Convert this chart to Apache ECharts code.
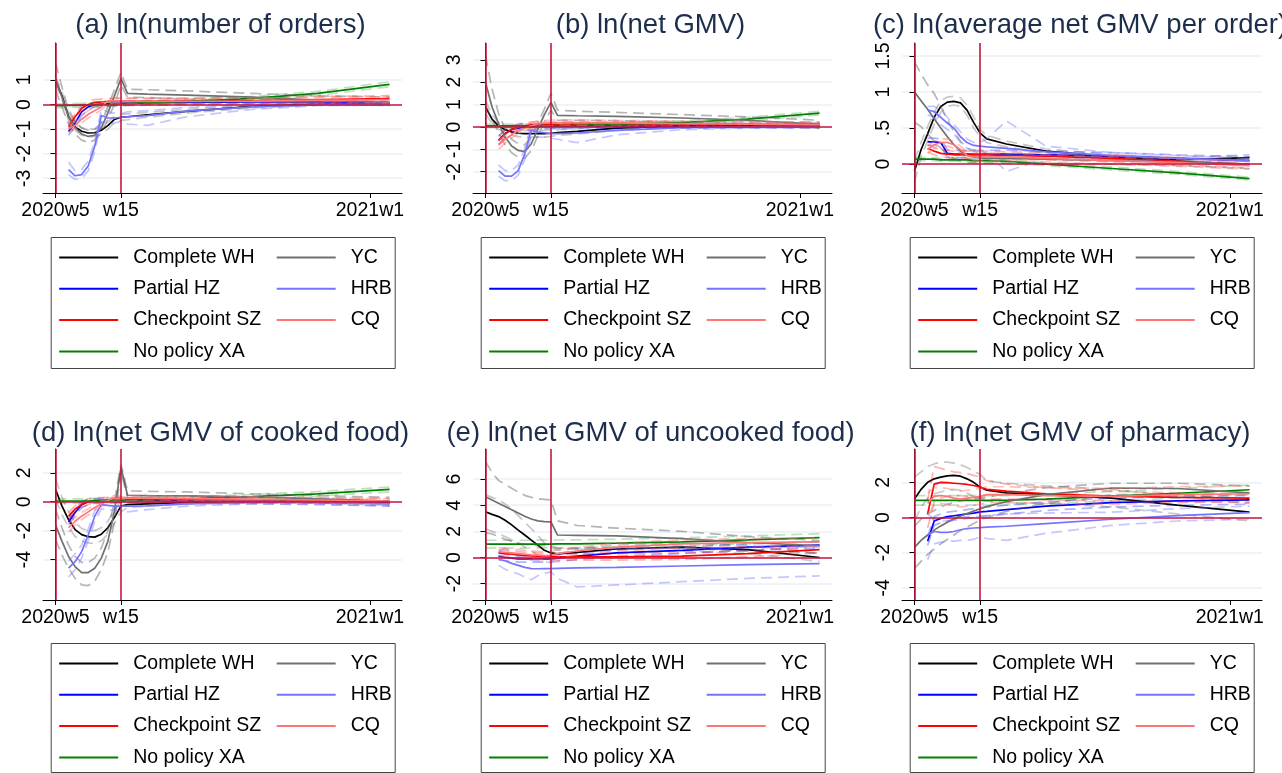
<!DOCTYPE html>
<html>
<head>
<meta charset="utf-8">
<script src="https://cdn.jsdelivr.net/npm/echarts@6/dist/echarts.min.js"></script>
<style>
html,body{margin:0;padding:0;background:#fff;}
#chart{width:1282px;height:773px;}
</style>
</head>
<body>
<div id="chart"></div>
<script>
// week index: 0 = 2020w5, 10 = 2020w15, 48 = 2021w1
const WEEKS = [0,1,2,3,4,5,6,7,8,9,10,11,14,20,30,40,51];
const X_TICKS = [0,10,48];
const X_TICK_LABELS = ['2020w5','w15','2021w1'];
const PANEL_TITLES = ['(a) ln(number of orders)','(b) ln(net GMV)','(c) ln(average net GMV per order)',
  '(d) ln(net GMV of cooked food)','(e) ln(net GMV of uncooked food)','(f) ln(net GMV of pharmacy)'];
const CITY_KEYS = ['WH','HZ','SZ','XA','YC','HRB','CQ'];
const CITY_NAMES = ['Complete WH','Partial HZ','Checkpoint SZ','No policy XA','YC','HRB','CQ'];
const Y_TICKS_A = [-3,-2,-1,0,1];
const Y_TICKS_B = [-2,-1,0,1,2,3];
const Y_TICKS_C = [0,0.5,1,1.5];
const Y_TICKS_D = [-4,-2,0,2];
const Y_TICKS_E = [-2,0,2,4,6];
const Y_TICKS_F = [-4,-2,0,2];
const Y_RANGE_A = [-3.6,2.5];
const Y_RANGE_B = [-2.95,3.75];
const Y_RANGE_C = [-0.4,1.68];
const Y_RANGE_D = [-6.8,3.65];
const Y_RANGE_E = [-3.25,8.3];
const Y_RANGE_F = [-4.7,3.9];

// ---- (a) ln(number of orders)
const a_WH    = [1.0,0.34,-0.5,-0.91,-1.09,-1.16,-1.15,-1.05,-0.86,-0.61,-0.52,-0.5,-0.42,-0.28,-0.08,0.02,0.05];
const a_WH_lo = [0.85,0.2,-0.65,-1.05,-1.25,-1.32,-1.3,-1.2,-1.0,-0.75,-0.65,-0.62,-0.52,-0.35,-0.14,-0.03,-0.02];
const a_WH_hi = [1.15,0.5,-0.35,-0.77,-0.95,-1.0,-1.0,-0.9,-0.72,-0.47,-0.4,-0.38,-0.32,-0.2,-0.02,0.07,0.12];
const a_HZ    = [null,null,-1.1,-0.75,-0.3,-0.1,0.0,0.02,0.03,0.04,0.05,0.05,0.06,0.08,0.1,0.1,0.05];
const a_HZ_lo = [null,null,-1.25,-0.9,-0.45,-0.22,-0.1,-0.08,-0.06,-0.05,-0.04,-0.04,-0.03,0.0,0.03,0.03,-0.02];
const a_HZ_hi = [null,null,-0.95,-0.6,-0.15,0.02,0.1,0.12,0.12,0.13,0.14,0.14,0.15,0.16,0.17,0.17,0.12];
const a_SZ    = [null,null,-0.9,-0.5,-0.15,0.0,0.08,0.1,0.12,0.12,0.12,0.13,0.13,0.14,0.16,0.2,0.24];
const a_SZ_lo = [null,null,-1.02,-0.62,-0.27,-0.12,-0.04,-0.02,0.0,0.0,0.0,0.01,0.01,0.02,0.04,0.08,0.12];
const a_SZ_hi = [null,null,-0.78,-0.38,-0.03,0.12,0.2,0.22,0.24,0.24,0.24,0.25,0.25,0.26,0.28,0.32,0.36];
const a_XA    = [-0.05,-0.05,-0.04,-0.04,-0.03,-0.03,-0.02,-0.01,0.0,0.02,0.03,0.04,0.07,0.12,0.25,0.45,0.82];
const a_XA_lo = [-0.13,-0.13,-0.12,-0.12,-0.11,-0.11,-0.1,-0.09,-0.08,-0.06,-0.05,-0.04,-0.01,0.04,0.17,0.37,0.72];
const a_XA_hi = [0.03,0.03,0.04,0.04,0.05,0.05,0.06,0.07,0.08,0.1,0.11,0.12,0.15,0.2,0.33,0.53,0.92];
const a_YC    = [1.05,0.3,-0.5,-0.95,-1.2,-1.3,-1.25,-0.95,-0.35,0.35,1.05,0.45,0.42,0.38,0.3,0.18,0.08];
const a_YC_lo = [0.6,-0.1,-0.8,-1.2,-1.45,-1.55,-1.45,-1.15,-0.6,0.0,0.8,0.3,0.28,0.22,0.15,0.05,-0.05];
const a_YC_hi = [1.7,0.7,-0.2,-0.7,-0.95,-1.05,-1.0,-0.75,-0.1,0.6,1.3,0.62,0.6,0.55,0.45,0.35,0.3];
const a_HRB    = [null,null,-2.65,-2.9,-2.85,-2.5,-1.7,-0.45,-0.55,-0.55,-0.52,-0.5,-0.45,-0.27,-0.1,-0.02,0.02];
const a_HRB_lo = [null,null,-2.85,-3.05,-3.0,-2.7,-1.9,-0.7,-0.8,-0.75,-0.7,-0.8,-0.85,-0.5,-0.2,-0.05,-0.02];
const a_HRB_hi = [null,null,-2.35,-2.7,-2.65,-2.3,-1.5,-0.2,-0.3,-0.35,-0.38,-0.3,-0.25,-0.12,0.0,0.05,0.07];
const a_CQ    = [null,null,-1.0,-0.85,-0.6,-0.4,-0.25,-0.1,0.15,0.15,0.15,0.14,0.13,0.13,0.14,0.17,0.2];
const a_CQ_lo = [null,null,-1.15,-1.0,-0.75,-0.55,-0.4,-0.22,0.03,0.03,0.03,0.02,0.01,0.01,0.02,0.05,0.08];
const a_CQ_hi = [null,null,-0.85,-0.7,-0.45,-0.25,-0.1,0.02,0.27,0.27,0.27,0.26,0.25,0.25,0.26,0.29,0.32];

// ---- (b) ln(net GMV)
const b_WH    = [0.9,0.35,0.05,-0.12,-0.22,-0.28,-0.3,-0.3,-0.3,-0.3,-0.28,-0.25,-0.2,-0.05,0.05,0.08,0.1];
const b_WH_lo = [0.6,0.15,-0.1,-0.27,-0.37,-0.43,-0.45,-0.45,-0.45,-0.45,-0.42,-0.38,-0.32,-0.15,-0.03,0.0,0.0];
const b_WH_hi = [1.2,0.55,0.2,0.03,-0.07,-0.13,-0.15,-0.15,-0.15,-0.15,-0.14,-0.12,-0.08,0.05,0.13,0.16,0.2];
const b_HZ    = [null,null,-0.6,-0.3,-0.12,-0.05,0.0,0.0,0.02,0.03,0.04,0.04,0.05,0.05,0.05,0.05,0.05];
const b_HZ_lo = [null,null,-0.8,-0.48,-0.28,-0.2,-0.14,-0.13,-0.1,-0.09,-0.08,-0.08,-0.07,-0.06,-0.05,-0.05,-0.06];
const b_HZ_hi = [null,null,-0.4,-0.12,0.04,0.1,0.14,0.13,0.14,0.15,0.16,0.16,0.17,0.16,0.15,0.15,0.16];
const b_SZ    = [null,null,-0.6,-0.3,-0.1,0.0,0.05,0.1,0.1,0.1,0.1,0.11,0.12,0.12,0.12,0.11,0.1];
const b_SZ_lo = [null,null,-0.78,-0.46,-0.25,-0.14,-0.08,-0.03,-0.03,-0.02,-0.02,-0.01,0.0,0.01,0.01,0.0,-0.02];
const b_SZ_hi = [null,null,-0.42,-0.14,0.05,0.14,0.18,0.23,0.23,0.22,0.22,0.23,0.24,0.23,0.23,0.22,0.22];
const b_XA    = [0.05,0.05,0.05,0.05,0.05,0.05,0.05,0.05,0.05,0.05,0.05,0.05,0.07,0.12,0.2,0.35,0.62];
const b_XA_lo = [-0.03,-0.03,-0.03,-0.03,-0.03,-0.03,-0.03,-0.03,-0.03,-0.03,-0.03,-0.03,-0.01,0.04,0.12,0.27,0.54];
const b_XA_hi = [0.13,0.13,0.13,0.13,0.13,0.13,0.13,0.13,0.13,0.13,0.13,0.13,0.15,0.2,0.28,0.43,0.7];
const b_YC    = [2.0,0.9,0.15,-0.45,-0.85,-1.05,-1.1,-0.75,-0.1,0.55,1.1,0.52,0.5,0.47,0.4,0.3,0.12];
const b_YC_lo = [1.0,0.3,-0.25,-0.8,-1.15,-1.35,-1.4,-1.05,-0.4,0.25,0.75,0.3,0.3,0.28,0.22,0.12,-0.05];
const b_YC_hi = [3.2,1.7,0.6,-0.1,-0.55,-0.75,-0.8,-0.45,0.15,0.8,1.5,0.75,0.7,0.65,0.55,0.45,0.3];
const b_HRB    = [null,null,-1.95,-2.2,-2.2,-1.95,-1.2,-0.15,-0.22,-0.26,-0.3,-0.3,-0.27,-0.15,-0.03,0.0,0.02];
const b_HRB_lo = [null,null,-2.2,-2.4,-2.4,-2.15,-1.45,-0.4,-0.45,-0.45,-0.5,-0.55,-0.7,-0.35,-0.12,-0.05,-0.03];
const b_HRB_hi = [null,null,-1.7,-1.95,-1.95,-1.7,-0.95,0.1,0.05,0.0,-0.05,-0.05,-0.02,0.05,0.1,0.1,0.1];
const b_CQ    = [null,null,-0.8,-0.55,-0.35,-0.15,-0.05,0.05,0.15,0.17,0.18,0.2,0.2,0.18,0.15,0.12,0.1];
const b_CQ_lo = [null,null,-1.0,-0.72,-0.5,-0.3,-0.18,-0.08,0.03,0.05,0.06,0.08,0.08,0.07,0.04,0.01,-0.02];
const b_CQ_hi = [null,null,-0.6,-0.38,-0.2,0.0,0.08,0.18,0.27,0.29,0.3,0.32,0.32,0.29,0.26,0.23,0.22];

// ---- (c) ln(average net GMV per order)
const c_WH    = [-0.1,0.2,0.42,0.65,0.8,0.86,0.87,0.85,0.75,0.58,0.43,0.35,0.28,0.18,0.1,0.06,0.09];
const c_WH_lo = [-0.25,0.1,0.32,0.55,0.72,0.8,0.82,0.8,0.68,0.5,0.38,0.3,0.24,0.15,0.07,0.03,0.05];
const c_WH_hi = [0.05,0.3,0.52,0.72,0.88,0.93,0.94,0.92,0.82,0.66,0.48,0.4,0.32,0.21,0.13,0.09,0.13];
const c_HZ    = [null,null,0.31,0.31,0.3,0.15,0.14,0.14,0.14,0.14,0.14,0.14,0.14,0.13,0.11,0.08,0.05];
const c_HZ_lo = [null,null,0.26,0.26,0.25,0.1,0.09,0.09,0.09,0.09,0.09,0.09,0.09,0.08,0.06,0.03,0.0];
const c_HZ_hi = [null,null,0.36,0.36,0.35,0.2,0.19,0.19,0.19,0.19,0.19,0.19,0.19,0.18,0.16,0.13,0.1];
const c_SZ    = [null,null,0.22,0.18,0.15,0.14,0.13,0.13,0.13,0.13,0.13,0.13,0.12,0.11,0.08,0.04,0.0];
const c_SZ_lo = [null,null,0.17,0.13,0.1,0.09,0.08,0.08,0.08,0.08,0.08,0.08,0.07,0.06,0.03,-0.01,-0.05];
const c_SZ_hi = [null,null,0.27,0.23,0.2,0.19,0.18,0.18,0.18,0.18,0.18,0.18,0.17,0.16,0.13,0.09,0.05];
const c_XA    = [0.07,0.07,0.07,0.07,0.06,0.06,0.06,0.06,0.06,0.05,0.05,0.05,0.04,0.0,-0.06,-0.12,-0.2];
const c_XA_lo = [0.05,0.05,0.05,0.05,0.04,0.04,0.04,0.04,0.04,0.03,0.03,0.03,0.02,-0.02,-0.08,-0.14,-0.22];
const c_XA_hi = [0.09,0.09,0.09,0.09,0.08,0.08,0.08,0.08,0.08,0.07,0.07,0.07,0.06,0.02,-0.04,-0.1,-0.18];
const c_YC    = [1.0,0.88,0.76,0.63,0.5,0.38,0.27,0.18,0.12,0.1,0.09,0.08,0.08,0.07,0.05,0.03,0.0];
const c_YC_lo = [0.58,0.52,0.42,0.32,0.22,0.14,0.08,0.04,0.02,0.02,0.01,0.01,0.01,0.01,0.0,-0.02,-0.06];
const c_YC_hi = [1.42,1.25,1.1,0.98,0.8,0.62,0.45,0.32,0.22,0.18,0.16,0.15,0.14,0.12,0.1,0.08,0.06];
const c_HRB    = [null,null,0.75,0.73,0.65,0.57,0.5,0.38,0.3,0.26,0.25,0.24,0.22,0.17,0.12,0.08,0.05];
const c_HRB_lo = [null,null,0.68,0.66,0.55,0.48,0.42,0.3,0.22,0.2,0.18,0.15,-0.1,0.08,0.06,0.03,0.0];
const c_HRB_hi = [null,null,0.8,0.8,0.75,0.65,0.55,0.45,0.35,0.3,0.3,0.35,0.6,0.25,0.16,0.12,0.08];
const c_CQ    = [null,null,0.2,0.27,0.3,0.3,0.27,0.2,0.12,0.1,0.1,0.1,0.1,0.08,0.05,0.02,-0.02];
const c_CQ_lo = [null,null,0.15,0.22,0.25,0.25,0.22,0.15,0.07,0.05,0.05,0.05,0.05,0.03,0.0,-0.03,-0.07];
const c_CQ_hi = [null,null,0.25,0.32,0.35,0.35,0.32,0.25,0.17,0.15,0.15,0.15,0.15,0.13,0.1,0.07,0.03];

// ---- (d) ln(net GMV of cooked food)
const d_WH    = [0.86,-0.3,-1.23,-1.93,-2.28,-2.42,-2.45,-2.25,-1.8,-1.1,-0.3,-0.2,-0.15,-0.05,0.0,0.0,-0.1];
const d_WH_lo = [0.2,-0.9,-1.75,-2.4,-2.7,-2.85,-2.9,-2.7,-2.25,-1.5,-0.7,-0.4,-0.3,-0.15,-0.1,-0.1,-0.25];
const d_WH_hi = [1.6,0.3,-0.7,-1.45,-1.85,-2.0,-2.0,-1.8,-1.35,-0.6,0.1,0.0,0.0,0.05,0.1,0.1,0.05];
const d_HZ    = [null,null,-1.4,-0.75,-0.2,0.0,0.05,0.07,0.08,0.09,0.1,0.1,0.08,0.05,0.0,-0.05,-0.1];
const d_HZ_lo = [null,null,-1.6,-0.95,-0.4,-0.2,-0.12,-0.1,-0.09,-0.08,-0.07,-0.07,-0.08,-0.1,-0.14,-0.2,-0.28];
const d_HZ_hi = [null,null,-1.2,-0.55,0.0,0.2,0.22,0.24,0.25,0.26,0.27,0.27,0.24,0.2,0.14,0.1,0.08];
const d_SZ    = [null,null,-1.0,-0.5,-0.2,0.0,0.1,0.12,0.13,0.14,0.15,0.15,0.15,0.14,0.12,0.1,0.05];
const d_SZ_lo = [null,null,-1.25,-0.72,-0.4,-0.2,-0.08,-0.05,-0.04,-0.03,-0.02,-0.02,-0.02,-0.02,-0.04,-0.06,-0.12];
const d_SZ_hi = [null,null,-0.75,-0.28,0.0,0.2,0.28,0.29,0.3,0.31,0.32,0.32,0.32,0.3,0.28,0.26,0.22];
const d_XA    = [0.05,0.05,0.05,0.05,0.05,0.05,0.06,0.07,0.08,0.09,0.1,0.11,0.15,0.2,0.35,0.55,0.85];
const d_XA_lo = [-0.1,-0.1,-0.1,-0.1,-0.1,-0.1,-0.09,-0.08,-0.07,-0.06,-0.05,-0.04,0.0,0.05,0.2,0.4,0.68];
const d_XA_hi = [0.2,0.2,0.2,0.2,0.2,0.2,0.21,0.22,0.23,0.24,0.25,0.26,0.3,0.35,0.5,0.7,1.02];
const d_YC    = [-1.58,-2.74,-3.79,-4.49,-4.9,-4.9,-4.6,-3.9,-2.74,-0.65,2.37,0.45,0.43,0.4,0.33,0.2,0.05];
const d_YC_lo = [-2.6,-3.7,-4.6,-5.3,-5.75,-5.8,-5.5,-4.7,-3.5,-1.4,2.1,0.25,0.24,0.22,0.15,0.02,-0.15];
const d_YC_hi = [-0.5,-1.8,-3.0,-3.8,-4.2,-4.2,-3.9,-3.2,-2.0,0.0,2.6,0.75,0.72,0.68,0.55,0.42,0.3];
const d_HRB    = [null,null,-4.6,-4.15,-3.45,-2.3,-1.0,-0.2,-0.25,-0.3,-0.3,-0.3,-0.28,-0.15,-0.05,-0.05,-0.15];
const d_HRB_lo = [null,null,-5.2,-4.7,-3.9,-2.7,-1.35,-0.5,-0.55,-0.6,-0.6,-0.7,-0.55,-0.3,-0.15,-0.15,-0.3];
const d_HRB_hi = [null,null,-4.1,-3.6,-3.0,-1.9,-0.6,0.15,0.05,0.0,0.0,0.05,0.0,0.0,0.07,0.05,0.0];
const d_CQ    = [null,null,-1.8,-1.35,-1.0,-0.7,-0.4,-0.15,0.1,0.25,0.2,0.25,0.25,0.22,0.18,0.12,0.05];
const d_CQ_lo = [null,null,-2.1,-1.6,-1.25,-0.92,-0.6,-0.33,-0.08,0.07,0.03,0.08,0.08,0.06,0.02,-0.04,-0.12];
const d_CQ_hi = [null,null,-1.5,-1.1,-0.75,-0.48,-0.2,0.03,0.28,0.43,0.37,0.42,0.42,0.38,0.34,0.28,0.22];

// ---- (e) ln(net GMV of uncooked food)
const e_WH    = [3.5,3.3,3.13,2.85,2.5,2.1,1.72,1.33,0.95,0.55,0.35,0.28,0.4,0.65,0.8,0.6,0.0];
const e_WH_lo = [2.2,2.0,1.8,1.6,1.35,1.1,0.8,0.5,0.2,0.05,-0.05,0.0,0.1,0.35,0.5,0.3,-0.3];
const e_WH_hi = [4.8,4.6,4.4,4.1,3.7,3.2,2.7,2.2,1.7,1.1,0.75,0.55,0.7,0.95,1.1,0.9,0.3];
const e_HZ    = [null,null,0.1,0.0,-0.05,-0.1,-0.1,-0.1,-0.1,-0.1,-0.1,-0.05,0.1,0.35,0.55,0.8,0.95];
const e_HZ_lo = [null,null,-0.15,-0.25,-0.3,-0.35,-0.35,-0.35,-0.35,-0.35,-0.35,-0.3,-0.15,0.1,0.3,0.55,0.7];
const e_HZ_hi = [null,null,0.35,0.25,0.2,0.15,0.15,0.15,0.15,0.15,0.15,0.2,0.35,0.6,0.8,1.05,1.2];
const e_SZ    = [null,null,0.35,0.3,0.25,0.2,0.15,0.12,0.1,0.08,0.05,0.05,0.05,0.05,0.1,0.3,0.6];
const e_SZ_lo = [null,null,0.1,0.05,0.0,-0.05,-0.1,-0.13,-0.15,-0.17,-0.2,-0.2,-0.2,-0.2,-0.15,0.05,0.35];
const e_SZ_hi = [null,null,0.6,0.55,0.5,0.45,0.4,0.37,0.35,0.33,0.3,0.3,0.3,0.3,0.35,0.55,0.85];
const e_XA    = [1.02,1.02,1.02,1.02,1.02,1.02,1.02,1.03,1.03,1.03,1.03,1.04,1.05,1.1,1.2,1.35,1.52];
const e_XA_lo = [0.72,0.72,0.72,0.72,0.72,0.72,0.72,0.73,0.73,0.73,0.73,0.74,0.75,0.8,0.9,1.05,1.22];
const e_XA_hi = [1.32,1.32,1.32,1.32,1.32,1.32,1.32,1.33,1.33,1.33,1.33,1.34,1.35,1.4,1.5,1.65,1.82];
const e_YC    = [4.65,4.4,4.15,3.9,3.65,3.4,3.15,2.95,2.8,2.75,2.72,1.72,1.7,1.65,1.45,1.15,0.9];
const e_YC_lo = [1.9,1.8,1.6,1.4,1.25,1.1,1.0,0.95,0.9,0.9,0.9,0.7,0.7,0.75,0.7,0.5,0.35];
const e_YC_hi = [7.35,6.5,5.9,5.6,5.3,5.0,4.75,4.6,4.5,4.45,4.4,2.8,2.45,2.25,2.0,1.6,1.3];
const e_HRB    = [null,null,-0.15,-0.25,-0.45,-0.6,-0.75,-0.85,-0.86,-0.85,-0.85,-0.83,-0.8,-0.75,-0.65,-0.55,-0.47];
const e_HRB_lo = [null,null,-0.6,-0.9,-1.1,-1.25,-1.5,-1.7,-1.4,-1.2,-1.1,-1.6,-2.25,-2.1,-1.85,-1.6,-1.4];
const e_HRB_hi = [null,null,0.5,0.7,0.3,0.1,-0.1,-0.2,-0.25,-0.3,-0.4,0.3,0.6,0.7,0.7,0.75,0.8];
const e_CQ    = [null,null,0.45,0.4,0.35,0.3,0.25,0.2,0.18,0.15,0.15,0.3,0.5,0.8,1.05,1.15,1.2];
const e_CQ_lo = [null,null,0.15,0.1,0.05,0.0,-0.05,-0.1,-0.12,-0.15,-0.15,0.0,0.2,0.5,0.75,0.85,0.9];
const e_CQ_hi = [null,null,0.75,0.7,0.65,0.6,0.55,0.5,0.48,0.45,0.45,0.6,0.8,1.1,1.35,1.45,1.5];

// ---- (f) ln(net GMV of pharmacy)
const f_WH    = [1.05,1.6,2.0,2.2,2.3,2.37,2.4,2.35,2.2,2.0,1.73,1.55,1.4,1.3,1.1,0.7,0.3];
const f_WH_lo = [-0.2,0.6,1.1,1.35,1.45,1.55,1.6,1.55,1.4,1.2,1.0,0.95,0.85,0.8,0.6,0.2,-0.2];
const f_WH_hi = [2.3,2.6,2.9,3.05,3.15,3.15,3.1,3.0,2.85,2.65,2.45,2.1,1.95,1.8,1.6,1.2,0.8];
const f_HZ    = [null,null,-1.35,-0.2,-0.05,0.05,0.1,0.15,0.2,0.25,0.32,0.35,0.45,0.65,0.85,0.95,1.0];
const f_HZ_lo = [null,null,-1.6,-0.45,-0.3,-0.2,-0.15,-0.1,-0.05,0.0,0.07,0.1,0.2,0.4,0.6,0.7,0.75];
const f_HZ_hi = [null,null,-1.1,0.05,0.2,0.3,0.35,0.4,0.45,0.5,0.57,0.6,0.7,0.9,1.1,1.2,1.25];
const f_SZ    = [null,null,0.2,1.9,2.0,1.98,1.95,1.92,1.88,1.82,1.73,1.6,1.5,1.35,1.22,1.15,1.1];
const f_SZ_lo = [null,null,-0.6,0.9,1.1,1.2,1.25,1.25,1.2,1.15,1.1,1.05,1.05,1.0,0.95,0.9,0.85];
const f_SZ_hi = [null,null,1.0,2.9,2.8,2.7,2.6,2.55,2.5,2.4,2.3,2.1,1.9,1.7,1.5,1.4,1.35];
const f_XA    = [0.97,0.97,0.97,0.97,0.97,0.97,0.97,0.97,0.97,0.97,0.97,0.97,0.98,1.05,1.22,1.38,1.58];
const f_XA_lo = [0.7,0.7,0.7,0.7,0.7,0.7,0.7,0.7,0.7,0.7,0.7,0.7,0.71,0.78,0.95,1.11,1.31];
const f_XA_hi = [1.24,1.24,1.24,1.24,1.24,1.24,1.24,1.24,1.24,1.24,1.24,1.24,1.25,1.32,1.49,1.65,1.85];
const f_YC    = [-1.7,-1.3,-1.0,-0.72,-0.48,-0.27,-0.08,0.08,0.22,0.36,0.5,0.62,0.9,1.3,1.68,1.65,1.4];
const f_YC_lo = [-2.9,-2.5,-2.1,-1.8,-1.5,-1.25,-1.0,-0.75,-0.55,-0.35,-0.15,0.0,0.35,0.8,1.3,1.3,1.0];
const f_YC_hi = [-0.5,-0.1,0.2,0.4,0.6,0.75,0.85,0.95,1.0,1.05,1.1,1.15,1.35,1.7,1.95,1.95,1.8];
const f_HRB    = [null,null,-1.0,-0.8,-0.85,-0.85,-0.8,-0.7,-0.63,-0.6,-0.58,-0.55,-0.5,-0.35,-0.1,0.1,0.28];
const f_HRB_lo = [null,null,-2.4,-1.5,-1.4,-1.35,-1.35,-1.3,-1.3,-1.25,-1.1,-1.2,-1.3,-0.9,-0.45,-0.2,-0.1];
const f_HRB_hi = [null,null,0.2,-0.1,-0.2,-0.2,-0.1,0.0,0.05,0.05,0.05,0.1,0.2,0.25,0.3,0.5,0.65];
const f_CQ    = [null,null,0.8,1.2,1.25,1.2,1.1,1.05,1.1,1.15,1.2,1.3,1.3,1.25,1.2,1.3,1.35];
const f_CQ_lo = [null,null,0.2,0.7,0.8,0.75,0.65,0.6,0.65,0.7,0.75,0.85,0.85,0.8,0.75,0.85,0.9];
const f_CQ_hi = [null,null,1.4,1.7,1.7,1.65,1.55,1.5,1.55,1.6,1.65,1.75,1.75,1.7,1.65,1.75,1.8];

const PANEL_DATA = [
  {WH:[a_WH,a_WH_lo,a_WH_hi],HZ:[a_HZ,a_HZ_lo,a_HZ_hi],SZ:[a_SZ,a_SZ_lo,a_SZ_hi],XA:[a_XA,a_XA_lo,a_XA_hi],YC:[a_YC,a_YC_lo,a_YC_hi],HRB:[a_HRB,a_HRB_lo,a_HRB_hi],CQ:[a_CQ,a_CQ_lo,a_CQ_hi]},
  {WH:[b_WH,b_WH_lo,b_WH_hi],HZ:[b_HZ,b_HZ_lo,b_HZ_hi],SZ:[b_SZ,b_SZ_lo,b_SZ_hi],XA:[b_XA,b_XA_lo,b_XA_hi],YC:[b_YC,b_YC_lo,b_YC_hi],HRB:[b_HRB,b_HRB_lo,b_HRB_hi],CQ:[b_CQ,b_CQ_lo,b_CQ_hi]},
  {WH:[c_WH,c_WH_lo,c_WH_hi],HZ:[c_HZ,c_HZ_lo,c_HZ_hi],SZ:[c_SZ,c_SZ_lo,c_SZ_hi],XA:[c_XA,c_XA_lo,c_XA_hi],YC:[c_YC,c_YC_lo,c_YC_hi],HRB:[c_HRB,c_HRB_lo,c_HRB_hi],CQ:[c_CQ,c_CQ_lo,c_CQ_hi]},
  {WH:[d_WH,d_WH_lo,d_WH_hi],HZ:[d_HZ,d_HZ_lo,d_HZ_hi],SZ:[d_SZ,d_SZ_lo,d_SZ_hi],XA:[d_XA,d_XA_lo,d_XA_hi],YC:[d_YC,d_YC_lo,d_YC_hi],HRB:[d_HRB,d_HRB_lo,d_HRB_hi],CQ:[d_CQ,d_CQ_lo,d_CQ_hi]},
  {WH:[e_WH,e_WH_lo,e_WH_hi],HZ:[e_HZ,e_HZ_lo,e_HZ_hi],SZ:[e_SZ,e_SZ_lo,e_SZ_hi],XA:[e_XA,e_XA_lo,e_XA_hi],YC:[e_YC,e_YC_lo,e_YC_hi],HRB:[e_HRB,e_HRB_lo,e_HRB_hi],CQ:[e_CQ,e_CQ_lo,e_CQ_hi]},
  {WH:[f_WH,f_WH_lo,f_WH_hi],HZ:[f_HZ,f_HZ_lo,f_HZ_hi],SZ:[f_SZ,f_SZ_lo,f_SZ_hi],XA:[f_XA,f_XA_lo,f_XA_hi],YC:[f_YC,f_YC_lo,f_YC_hi],HRB:[f_HRB,f_HRB_lo,f_HRB_hi],CQ:[f_CQ,f_CQ_lo,f_CQ_hi]}
];
const PANEL_Y_TICKS = [Y_TICKS_A,Y_TICKS_B,Y_TICKS_C,Y_TICKS_D,Y_TICKS_E,Y_TICKS_F];
const PANEL_Y_RANGE = [Y_RANGE_A,Y_RANGE_B,Y_RANGE_C,Y_RANGE_D,Y_RANGE_E,Y_RANGE_F];

// ---------- styling / layout (not data) ----------
const MAIN_COLORS = {WH:'#000000',HZ:'#0000ff',SZ:'#ff0000',XA:'#008000',YC:'#707070',HRB:'#7474ff',CQ:'#ff7676'};
const CI_COLORS = {WH:'rgba(0,0,0,0.22)',HZ:'rgba(0,0,255,0.3)',SZ:'rgba(255,0,0,0.3)',XA:'rgba(0,128,0,0.25)',
  YC:'rgba(90,90,90,0.45)',HRB:'rgba(110,110,255,0.4)',CQ:'rgba(255,110,110,0.45)'};
const COL_LEFT = [43,473,902];
const COL_WIDTH = [359,359,360];
const ROW_TOP = [43,449];
const ROW_HEIGHT = [150,151];
const REF_RED = '#c8163e';
const FONT = 'Liberation Sans, Arial, Helvetica, sans-serif';

function pairs(vals){
  const out = [];
  for (let i=0;i<WEEKS.length;i++){ if (vals[i]!==null) out.push([WEEKS[i], vals[i]]); }
  return out;
}
function fmtY(v){
  if (Math.abs(v-0.5)<1e-9) return '.5';
  return String(v);
}

const grids=[], xAxes=[], yAxes=[], series=[], titles=[], legends=[], graphics=[];
for (let p=0;p<6;p++){
  const col = p%3, row = Math.floor(p/3);
  const left = COL_LEFT[col], top = ROW_TOP[row], w = COL_WIDTH[col], h = ROW_HEIGHT[row];
  grids.push({left:left, top:top, width:w, height:h, containLabel:false});
  xAxes.push({
    type:'value', gridIndex:p, min:-1.9, max:52.9,
    axisLine:{show:true, onZero:false, lineStyle:{color:'#000', width:1}},
    axisTick:{show:true, customValues:X_TICKS, length:5, lineStyle:{color:'#000'}},
    axisLabel:{customValues:X_TICKS, fontSize:19.5, fontFamily:FONT, color:'#000', margin:8,
      formatter:function(v){ const i = X_TICKS.indexOf(v); return i>=0 ? X_TICK_LABELS[i] : ''; }},
    splitLine:{show:false}
  });
  const yt = PANEL_Y_TICKS[p];
  yAxes.push({
    type:'value', gridIndex:p, min:PANEL_Y_RANGE[p][0], max:PANEL_Y_RANGE[p][1],
    axisLine:{show:true, lineStyle:{color:'#000', width:1}},
    axisTick:{show:true, customValues:yt, length:5, lineStyle:{color:'#000'}},
    axisLabel:{customValues:yt, rotate:90, fontSize:19.5, fontFamily:FONT, color:'#000', margin:8, formatter:fmtY},
    splitLine:{show:true, lineStyle:{color:'#eaf2f3', width:1.6}}
  });
  titles.push({
    text:PANEL_TITLES[p], left:left + w/2 - 2, top: row===0 ? 11 : 419, textAlign:'center', padding:0,
    textStyle:{fontSize:27.5, fontWeight:'normal', fontFamily:FONT, color:'#1c2e4c'}
  });
  const data = PANEL_DATA[p];
  CITY_KEYS.forEach(function(k, ci){
    const arr = data[k];
    const s = {
      type:'line', name:CITY_NAMES[ci], xAxisIndex:p, yAxisIndex:p, data:pairs(arr[0]),
      showSymbol:false, symbol:'none', silent:true, animation:false, color:MAIN_COLORS[k],
      lineStyle:{color:MAIN_COLORS[k], width:1.7}
    };
    if (ci===0){
      s.markLine = {silent:true, symbol:'none', label:{show:false}, animation:false,
        lineStyle:{color:REF_RED, width:1.6, type:'solid'},
        data:[{xAxis:0},{xAxis:10},{yAxis:0}]};
    }
    series.push(s);
    [1,2].forEach(function(j){
      series.push({
        type:'line', name:k + (j===1?' lower':' upper'), xAxisIndex:p, yAxisIndex:p, data:pairs(arr[j]),
        showSymbol:false, symbol:'none', silent:true, animation:false, color:CI_COLORS[k],
        lineStyle:{color:CI_COLORS[k], width:1.7, type:[11,6]}
      });
    });
  });
  // legend box
  const boxL = left + 7.7, boxT = row===0 ? 237 : 643;
  graphics.push({type:'rect', silent:true, shape:{x:boxL+0.5, y:boxT+0.5, width:344, height: row===0?131:129},
    style:{fill:'#fff', stroke:'#444', lineWidth:1}, z:-1});
  const legBase = {orient:'vertical', top:boxT+9.5, itemWidth:59, itemHeight:2, icon:'rect', itemGap:9.3,
    padding:0, selectedMode:false,
    textStyle:{fontSize:19.5, fontFamily:FONT, color:'#000', lineHeight:22, padding:[0,0,0,10]}};
  legends.push(Object.assign({}, legBase, {left:boxL+8.5, data:CITY_NAMES.slice(0,4)}));
  legends.push(Object.assign({}, legBase, {left:boxL+226, data:CITY_NAMES.slice(4)}));
}

const chart = echarts.init(document.getElementById('chart'), null, {renderer:'canvas'});
chart.setOption({
  backgroundColor:'#ffffff',
  animation:false,
  title:titles,
  legend:legends,
  grid:grids,
  xAxis:xAxes,
  yAxis:yAxes,
  series:series,
  graphic:graphics
});
</script>
</body>
</html>
